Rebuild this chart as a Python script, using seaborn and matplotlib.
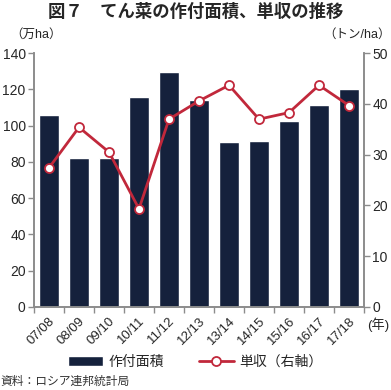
import numpy as np
import seaborn as sns
import matplotlib.pyplot as plt

seasons = ["07/08", "08/09", "09/10", "10/11", "11/12", "12/13",
           "13/14", "14/15", "15/16", "16/17", "17/18"]
area = [106, 82, 82, 116, 129.5, 114.3, 90.8, 91.3, 102.5, 111.3, 120]   # 万ha
yields = [27.4, 35.4, 30.5, 19.3, 37.0, 40.6, 43.7, 37.0, 38.3, 43.7, 39.7]  # トン/ha

navy = "#15213c"
red = "#c1283b"
gray = "#8c8c8c"

sns.set_style("ticks")
plt.rcParams["font.family"] = ["Liberation Sans", "Noto Sans CJK JP", "DejaVu Sans"]

fig = plt.figure(figsize=(3.91, 3.90), dpi=100)
ax = fig.add_axes([34 / 391, 1 - 306.7 / 390, 330 / 391, 253.4 / 390])
ax2 = ax.twinx()

sns.barplot(x=seasons, y=area, ax=ax, color=navy, width=0.67, saturation=1,
            label="作付面積")
sns.pointplot(x=seasons, y=yields, ax=ax2, color=red, errorbar=None,
              markers="o", markersize=6.5, markerfacecolor="white",
              markeredgecolor=red, markeredgewidth=1.3, linewidth=2,
              label="単収（右軸）")

ax.set_xlim(-0.5, 10.5)
ax.set_ylim(0, 140)
ax2.set_ylim(0, 50)
ax.set_yticks(range(0, 141, 20))
ax2.set_yticks(range(0, 51, 10))
ax.set_xlabel("")
ax.set_ylabel("")
ax2.set_ylabel("")

ax.set_xticks(range(len(seasons)))
ax.set_xticklabels(seasons, rotation=45, ha="right", rotation_mode="anchor")
ax.set_xticks(np.arange(-0.5, 11, 1), minor=True)
ax.tick_params(axis="x", which="major", length=0, labelsize=9.5, pad=6)
ax.tick_params(axis="x", which="minor", length=4, color=gray, width=1)
ax.tick_params(axis="y", length=4, color=gray, width=1, labelsize=10, pad=2)
ax2.tick_params(axis="y", length=4, color=gray, width=1, labelsize=10, pad=2)

for a in (ax, ax2):
    a.spines["top"].set_visible(False)
    for s in ("left", "right", "bottom"):
        a.spines[s].set_color(gray)
        a.spines[s].set_linewidth(1.2)
    a.grid(False)
if ax.get_legend():
    ax.get_legend().remove()
if ax2.get_legend():
    ax2.get_legend().remove()

fig.text(0.5, 1 - 12 / 390, "図７　てん菜の作付面積、単収の推移", ha="center", va="center",
         fontsize=12.5, fontweight="bold", family=["Noto Sans CJK JP"])
fig.text(10 / 391, 1 - 35 / 390, "（万ha）", ha="left", va="center", fontsize=9)
fig.text(1.0, 1 - 35 / 390, "（トン/ha）", ha="right", va="center", fontsize=9)
fig.text(389 / 391, 1 - 325 / 390, "(年)", ha="right", va="center", fontsize=9.5)
fig.text(0.0, 1 - 382 / 390, "資料：ロシア連邦統計局", ha="left", va="center", fontsize=8.5,
         color="#333333")

h1, l1 = ax.get_legend_handles_labels()
h2, l2 = ax2.get_legend_handles_labels()
fig.legend(h1 + h2, ["作付面積", "単収（右軸）"], loc="center", ncol=2,
           bbox_to_anchor=(0.5, 1 - 362 / 390), frameon=False, fontsize=10,
           handlelength=2.5, columnspacing=2.5, handletextpad=0.4)

fig.savefig("out.png", dpi=100)
